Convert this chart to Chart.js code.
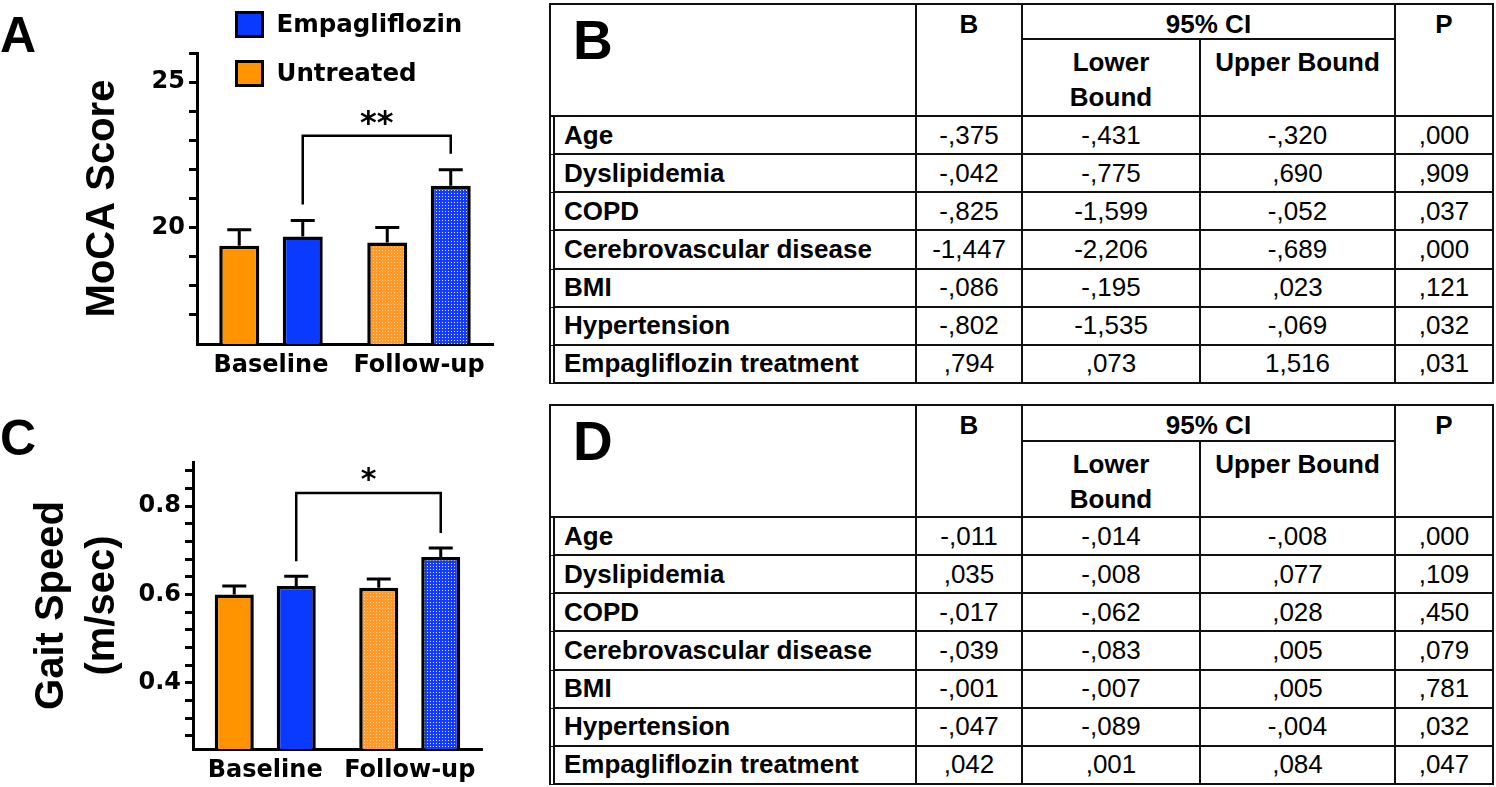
<!DOCTYPE html>
<html>
<head>
<meta charset="utf-8">
<script src="https://cdn.jsdelivr.net/npm/chart.js@4.4.1/dist/chart.umd.min.js"></script>
<style>
  html, body { margin:0; padding:0; background:#fff; }
  body { width:1496px; height:787px; position:relative; overflow:hidden; }
  canvas { position:absolute; left:0; }
  .panel { position:absolute; left:0; font-family:'Liberation Sans', Arial, sans-serif; font-weight:bold; font-size:50px; line-height:50px; color:#000; }
  .tbl { position:absolute; left:549px; display:grid; grid-template-columns:368px 106px 178px 195px 98px; font-family:'Liberation Sans', Arial, sans-serif; font-size:26px; color:#000; }
  .c { box-sizing:border-box; border-right:2px solid #111; border-bottom:2px solid #111; display:flex; align-items:center; justify-content:center; white-space:nowrap; }
  .top { border-top:2px solid #111; }
  .hd { font-weight:bold; align-items:flex-start; text-align:center; line-height:35px; }
  .r1 { padding-top:2px; }
  .r2 { padding-top:5px; }
  .lab { font-weight:bold; justify-content:flex-start; padding-left:9px; border-left:6px double #111; }
  .corner { border-left:2px solid #111; position:relative; }
  .letter { position:absolute; left:22px; top:8px; font-family:'Liberation Sans Narrow','Liberation Sans',Arial,sans-serif; font-weight:bold; font-size:55px; line-height:55px; }
</style>
</head>
<body>
<div class="panel" style="top:10px">A</div>
<div class="panel" style="top:413px">C</div>
<canvas id="chartA" width="540" height="400" style="top:0"></canvas>
<canvas id="chartC" width="540" height="387" style="top:400px"></canvas>
<div id="tableB" class="tbl" style="top:3px; grid-template-rows:37px 77px repeat(7, 38.143px);"></div>
<div id="tableD" class="tbl" style="top:404px; grid-template-rows:38px 76px repeat(7, 38.143px);"></div>
<script>
// ---------- data ----------
const timepoints = ['Baseline', 'Follow-up'];
const seriesNames = ['Untreated', 'Empagliflozin'];

const mocaUntreated = [19.38, 19.49];
const mocaUntreatedSem = [0.55, 0.51];
const mocaEmpa = [19.69, 21.44];
const mocaEmpaSem = [0.55, 0.55];
const mocaTicks = [17, 18, 19, 20, 21, 22, 23, 24, 25, 26];
const mocaTickLabels = [20, 25];
const mocaSignificance = '**';

const gaitUntreated = [0.600, 0.615];
const gaitUntreatedSem = [0.019, 0.020];
const gaitEmpa = [0.619, 0.685];
const gaitEmpaSem = [0.022, 0.020];
const gaitTicks = [0.28, 0.32, 0.36, 0.4, 0.44, 0.48, 0.52, 0.56, 0.6, 0.64, 0.68, 0.72, 0.76, 0.8, 0.84, 0.88];
const gaitTickLabels = [0.4, 0.6, 0.8];
const gaitSignificance = '*';

const tableRows = ['Age', 'Dyslipidemia', 'COPD', 'Cerebrovascular disease', 'BMI', 'Hypertension', 'Empagliflozin treatment'];
const tableHeaders = ['B', '95% CI', 'Lower<br>Bound', 'Upper Bound', 'P'];
const mocaB = ['-,375', '-,042', '-,825', '-1,447', '-,086', '-,802', ',794'];
const mocaLower = ['-,431', '-,775', '-1,599', '-2,206', '-,195', '-1,535', ',073'];
const mocaUpper = ['-,320', ',690', '-,052', '-,689', ',023', '-,069', '1,516'];
const mocaP = [',000', ',909', ',037', ',000', ',121', ',032', ',031'];
const gaitB = ['-,011', ',035', '-,017', '-,039', '-,001', '-,047', ',042'];
const gaitLower = ['-,014', '-,008', '-,062', '-,083', '-,007', '-,089', ',001'];
const gaitUpper = ['-,008', ',077', ',028', ',005', ',005', '-,004', ',084'];
const gaitP = [',000', ',109', ',450', ',079', ',781', ',032', ',047'];

// ---------- styles ----------
const ORANGE = '#FF9400';
const BLUE = '#0A3AFF';
const TICK_FONT = { family: "'DejaVu Sans'", weight: 'bold', size: 24 };

function dotted(color, dot) {
  const c = document.createElement('canvas');
  c.width = 3; c.height = 3;
  const g = c.getContext('2d');
  g.fillStyle = color; g.fillRect(0, 0, 3, 3);
  g.fillStyle = dot; g.fillRect(1, 1, 1, 1);
  return g.createPattern(c, 'repeat');
}

// ---------- plugins ----------
const errorBarsPlugin = {
  id: 'errorBars',
  afterDatasetsDraw(chart, args, opts) {
    const ctx = chart.ctx, y = chart.scales.y;
    chart.data.datasets.forEach((ds, di) => {
      chart.getDatasetMeta(di).data.forEach((bar, i) => {
        const yTop = y.getPixelForValue(ds.data[i] + ds.errors[i]);
        ctx.save();
        ctx.strokeStyle = '#000'; ctx.lineWidth = opts.lineWidth;
        ctx.beginPath();
        ctx.moveTo(bar.x, bar.y); ctx.lineTo(bar.x, yTop);
        ctx.moveTo(bar.x - opts.capWidth / 2, yTop); ctx.lineTo(bar.x + opts.capWidth / 2, yTop);
        ctx.stroke();
        ctx.restore();
      });
    });
  }
};

const bracketPlugin = {
  id: 'sigBracket',
  afterDatasetsDraw(chart, args, o) {
    const ctx = chart.ctx, y = chart.scales.y, ds = chart.data.datasets;
    const [d1, i1] = o.from, [d2, i2] = o.to;
    const b1 = chart.getDatasetMeta(d1).data[i1], b2 = chart.getDatasetMeta(d2).data[i2];
    const leg1 = y.getPixelForValue(ds[d1].data[i1] + ds[d1].errors[i1]) - o.gap;
    const leg2 = y.getPixelForValue(ds[d2].data[i2] + ds[d2].errors[i2]) - o.gap;
    const lineY = Math.min(leg1, leg2) - o.rise;
    ctx.save();
    ctx.strokeStyle = '#000'; ctx.lineWidth = 2.5;
    ctx.beginPath();
    ctx.moveTo(b1.x, leg1); ctx.lineTo(b1.x, lineY); ctx.lineTo(b2.x, lineY); ctx.lineTo(b2.x, leg2);
    ctx.stroke();
    ctx.fillStyle = '#000';
    ctx.font = 'bold ' + o.fontSize + "px 'DejaVu Sans'";
    ctx.textAlign = 'center'; ctx.textBaseline = 'alphabetic';
    ctx.fillText(o.text, (b1.x + b2.x) / 2, lineY - o.textGap);
    ctx.restore();
  }
};

const boxLegendPlugin = {
  id: 'boxLegend',
  afterDraw(chart, args, o) {
    if (!o.show) return;
    const ctx = chart.ctx;
    o.order.forEach((di, k) => {
      const ds = chart.data.datasets[di];
      const top = o.y + k * o.spacing;
      ctx.save();
      ctx.fillStyle = ds.legendColor;
      ctx.fillRect(o.x, top, o.w, o.h);
      ctx.strokeStyle = '#000'; ctx.lineWidth = 3;
      ctx.strokeRect(o.x, top, o.w, o.h);
      ctx.fillStyle = '#000';
      ctx.font = "bold 24.5px 'DejaVu Sans'";
      ctx.textAlign = 'left'; ctx.textBaseline = 'middle';
      ctx.fillText(ds.label, o.x + o.w + 14, top + o.h / 2 + 1);
      ctx.restore();
    });
  }
};

function makeBarChart(canvas, o) {
  return new Chart(canvas, {
    type: 'bar',
    data: {
      labels: timepoints,
      datasets: [
        { label: seriesNames[0], data: o.untreated, errors: o.untreatedSem,
          backgroundColor: [ORANGE, dotted('#FF9A2A', '#FFD2A6')], legendColor: ORANGE,
          borderColor: '#000', borderWidth: 3.5 },
        { label: seriesNames[1], data: o.empa, errors: o.empaSem,
          backgroundColor: [BLUE, dotted('#143CFF', '#E6EBFF')], legendColor: BLUE,
          borderColor: '#000', borderWidth: 3.5 }
      ]
    },
    options: {
      responsive: false, animation: false, devicePixelRatio: 1,
      layout: { padding: { top: o.top, right: o.right, left: 0, bottom: 0 } },
      datasets: { bar: { categoryPercentage: 0.858, barPercentage: 0.63 } },
      scales: {
        x: {
          z: 1,
          grid: { display: false, drawTicks: false },
          border: { display: true, color: '#000', width: 3 },
          ticks: { color: '#000', font: TICK_FONT, padding: 7, maxRotation: 0 },
          afterFit: (s) => { s.height = o.xHeight; }
        },
        y: {
          z: 1,
          min: o.min, max: o.max,
          afterBuildTicks: (s) => { s.ticks = o.ticks.map(v => ({ value: v })); },
          grid: { display: true, drawOnChartArea: false, drawTicks: true, tickLength: 8, tickWidth: 3, tickColor: '#000' },
          border: { display: true, color: '#000', width: 3 },
          ticks: { autoSkip: false, color: '#000', font: TICK_FONT, padding: 4,
            callback: (v) => o.labels.some(l => Math.abs(l - v) < 1e-9) ? String(v) : '' },
          title: { display: true, text: o.title, color: '#000',
            font: { family: "'Liberation Sans'", weight: 'bold', size: o.titleSize, lineHeight: o.titleLH },
            padding: { top: o.titlePad, bottom: 0 } },
          afterFit: (s) => { s.width = o.yWidth; }
        }
      },
      plugins: {
        legend: { display: false }, tooltip: { enabled: false },
        errorBars: { lineWidth: 3, capWidth: 24 },
        sigBracket: { from: [1, 0], to: [1, 1], gap: o.gap, rise: o.rise, text: o.sig, fontSize: o.sigSize, textGap: o.sigGap },
        boxLegend: o.legend
      }
    },
    plugins: [errorBarsPlugin, bracketPlugin, boxLegendPlugin]
  });
}

makeBarChart(document.getElementById('chartA'), {
  untreated: mocaUntreated, untreatedSem: mocaUntreatedSem, empa: mocaEmpa, empaSem: mocaEmpaSem,
  min: 16, max: 26, ticks: mocaTicks, labels: mocaTickLabels,
  title: 'MoCA Score', titleSize: 40, titleLH: 1.2, titlePad: 79,
  top: 53, right: 47, yWidth: 197, xHeight: 56,
  gap: 16, rise: 18, sig: mocaSignificance, sigSize: 32, sigGap: 3,
  legend: { show: true, order: [1, 0], x: 236.5, y: 12.5, w: 26, h: 24, spacing: 49 }
});

makeBarChart(document.getElementById('chartC'), {
  untreated: gaitUntreated, untreatedSem: gaitUntreatedSem, empa: gaitEmpa, empaSem: gaitEmpaSem,
  min: 0.25, max: 0.9, ticks: gaitTicks, labels: gaitTickLabels,
  title: ['Gait Speed', '(m/sec)'], titleSize: 40, titleLH: 1.275, titlePad: 26.5,
  top: 62, right: 58, yWidth: 193, xHeight: 38,
  gap: 15, rise: 40, sig: gaitSignificance, sigSize: 30, sigGap: 4,
  legend: { show: false }
});

// ---------- tables ----------
function buildTable(el, letter, B, L, U, P) {
  let h = '';
  h += '<div class="c top corner" style="grid-row:1/3;grid-column:1"><span class="letter">' + letter + '</span></div>';
  h += '<div class="c top hd r1" style="grid-row:1/3;grid-column:2">' + tableHeaders[0] + '</div>';
  h += '<div class="c top hd r1" style="grid-row:1;grid-column:3/5">' + tableHeaders[1] + '</div>';
  h += '<div class="c top hd r1" style="grid-row:1/3;grid-column:5">' + tableHeaders[4] + '</div>';
  h += '<div class="c hd r2" style="grid-row:2;grid-column:3">' + tableHeaders[2] + '</div>';
  h += '<div class="c hd r2" style="grid-row:2;grid-column:4">' + tableHeaders[3] + '</div>';
  tableRows.forEach((name, i) => {
    const r = i + 3;
    h += '<div class="c lab" style="grid-row:' + r + ';grid-column:1">' + name + '</div>';
    [B, L, U, P].forEach((col, j) => {
      h += '<div class="c" style="grid-row:' + r + ';grid-column:' + (j + 2) + '">' + col[i] + '</div>';
    });
  });
  el.innerHTML = h;
}
buildTable(document.getElementById('tableB'), 'B', mocaB, mocaLower, mocaUpper, mocaP);
buildTable(document.getElementById('tableD'), 'D', gaitB, gaitLower, gaitUpper, gaitP);
</script>
</body>
</html>
